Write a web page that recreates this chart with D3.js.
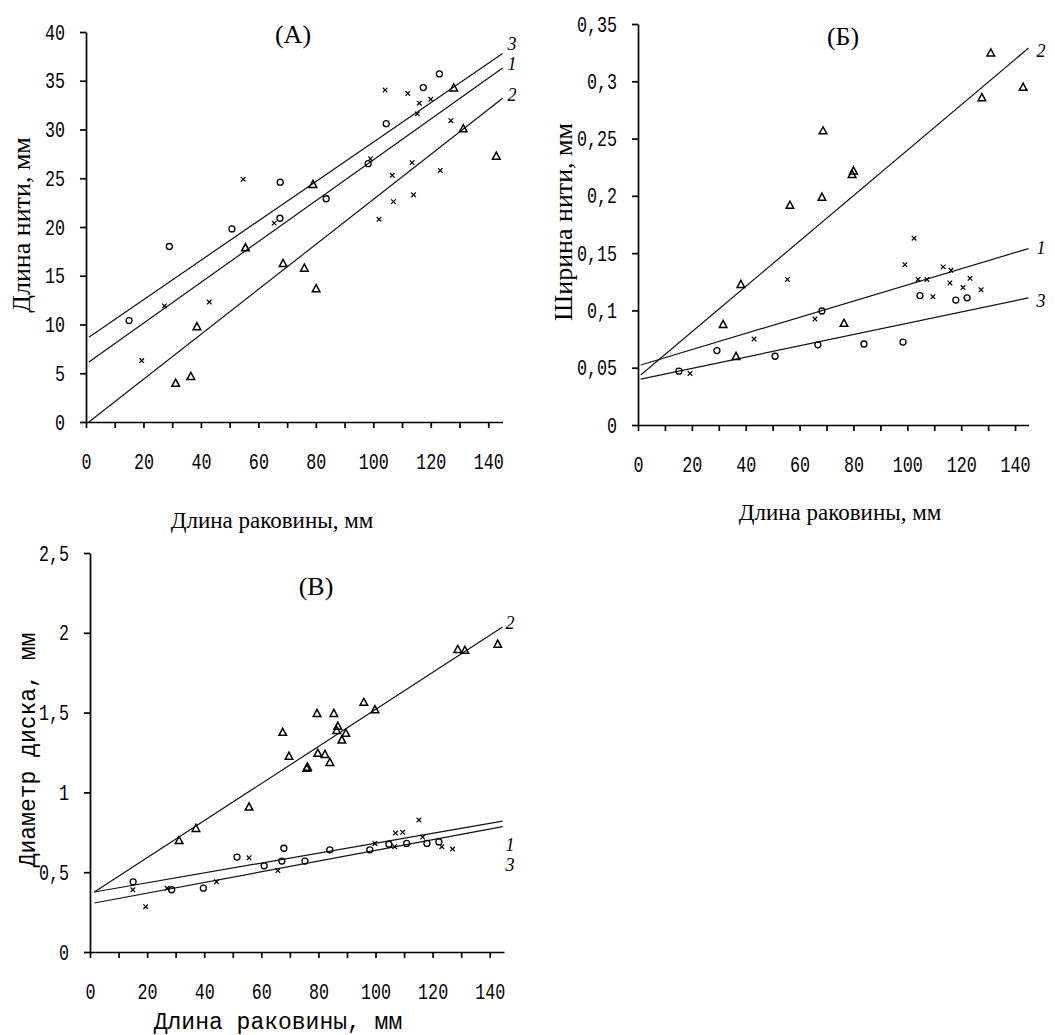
<!DOCTYPE html>
<html>
<head>
<meta charset="utf-8">
<script src="https://cdn.jsdelivr.net/npm/d3@7"></script>
<style>
  body { margin: 0; background: #fff; }
  text { fill: #000; }
</style>
</head>
<body>
<svg width="1055" height="1035"></svg>
<script>
// ---------- data ----------
var xTicks = [0, 10, 20, 30, 40, 50, 60, 70, 80, 90, 100, 110, 120, 130, 140];

// (А) thread length vs shell length
var aYTicks = [0, 5, 10, 15, 20, 25, 30, 35, 40];
var aYLabels = ["0", "5", "10", "15", "20", "25", "30", "35", "40"];
var aCircles = [[15, 10.4], [29, 18], [50.8, 19.8], [67.5, 20.9], [67.6, 24.6], [83.6, 22.9],
  [98.2, 26.5], [104.5, 30.6], [117.4, 34.3], [123, 35.7]];
var aCrosses = [[19.4, 6.3], [27.3, 11.9], [42.9, 12.3], [54.7, 24.9], [65.5, 20.4], [99, 27],
  [102, 20.8], [104.1, 34.05], [106.6, 25.3], [107, 22.6], [112, 33.7], [113.5, 26.6],
  [114, 23.3], [115.3, 31.6], [116, 32.7], [120, 33.1], [123.3, 25.8], [127, 30.9]];
var aTriangles = [[31.2, 4.0], [36.5, 4.7], [38.6, 9.8], [55.5, 17.9], [68.6, 16.3], [76, 15.8],
  [79, 24.4], [80.1, 13.7], [128, 34.3], [131.3, 30.1], [142.8, 27.3]];
var aLines = [
  {name: "3", x0: 1, y0: 8.7, x1: 145, y1: 37.8},
  {name: "1", x0: 1, y0: 6.15, x1: 145, y1: 36.3},
  {name: "2", x0: 1, y0: 0, x1: 145, y1: 33.2}
];

// (Б) thread width vs shell length
var bYTicks = [0, 0.05, 0.1, 0.15, 0.2, 0.25, 0.3, 0.35];
var bYLabels = ["0", "0,05", "0,1", "0,15", "0,2", "0,25", "0,3", "0,35"];
var bCircles = [[15.2, 0.047], [29.3, 0.065], [50.9, 0.060], [66.8, 0.070], [68.3, 0.0995],
  [83.9, 0.0707], [98.4, 0.0724], [104.7, 0.113], [118, 0.109], [122.2, 0.111]];
var bCrosses = [[19.3, 0.045], [43.1, 0.075], [55.5, 0.127], [65.7, 0.0925], [99.1, 0.140],
  [102.5, 0.163], [104, 0.127], [107.3, 0.127], [109.5, 0.112], [113.3, 0.138], [115.8, 0.124],
  [116.2, 0.135], [120.7, 0.120], [123.3, 0.128], [127.4, 0.118]];
var bTriangles = [[31.6, 0.088], [36.4, 0.060], [38.2, 0.123], [56.4, 0.192], [68.3, 0.199],
  [68.7, 0.257], [76.5, 0.089], [79.5, 0.219], [80, 0.222], [127.7, 0.286], [131, 0.325],
  [143, 0.295]];
var bLines = [
  {name: "2", x0: 1, y0: 0.0436, x1: 145, y1: 0.329},
  {name: "1", x0: 1, y0: 0.0524, x1: 145, y1: 0.154},
  {name: "3", x0: 1, y0: 0.040, x1: 145, y1: 0.111}
];

// (В) disc diameter vs shell length
var cYTicks = [0, 0.5, 1, 1.5, 2, 2.5];
var cYLabels = ["0", "0,5", "1", "1,5", "2", "2,5"];
var cCircles = [[15.1, 0.44], [28.6, 0.39], [39.7, 0.40], [51.5, 0.595], [61, 0.54], [67.2, 0.57],
  [67.9, 0.65], [75.3, 0.57], [84, 0.64], [98, 0.64], [104.7, 0.675], [110.9, 0.68],
  [118, 0.68], [122.2, 0.69]];
var cCrosses = [[15, 0.39], [19.5, 0.284], [27, 0.40], [44.3, 0.44], [55.7, 0.59], [65.8, 0.51],
  [99.8, 0.68], [106.7, 0.66], [107, 0.745], [109.5, 0.75], [115.2, 0.827], [116.5, 0.72],
  [123.2, 0.66], [127, 0.645]];
var cTriangles = [[31.2, 0.70], [37.1, 0.776], [55.7, 0.91], [67.5, 1.378], [69.7, 1.228],
  [75.9, 1.153], [76.2, 1.16], [79.5, 1.497], [79.8, 1.247], [82.3, 1.24], [84, 1.19],
  [85.4, 1.497], [86.4, 1.39], [86.8, 1.416], [88.2, 1.33], [89.6, 1.372], [95.9, 1.566],
  [99.8, 1.52], [128.8, 1.898], [131.3, 1.892], [142.8, 1.93]];
var cLines = [
  {name: "2", x0: 1.5, y0: 0.376, x1: 144.5, y1: 2.036},
  {name: "1", x0: 1.5, y0: 0.376, x1: 144.5, y1: 0.82},
  {name: "3", x0: 1.5, y0: 0.307, x1: 144.5, y1: 0.785}
];

// ---------- drawing ----------
var svg = d3.select("svg");
var tickFont = "'Liberation Mono', monospace";
var serif = "'Liberation Serif', 'Times New Roman', serif";

function drawPanel(p) {
  var g = svg.append("g");
  var x = d3.scaleLinear().domain([0, 145]).range([p.left, p.right]);
  var y = d3.scaleLinear().domain([0, p.yMax]).range([p.bottom, p.top]);

  var xAxis = d3.axisBottom(x)
    .tickValues(xTicks)
    .tickSize(6).tickSizeOuter(0).tickPadding(25)
    .tickFormat(d => d % 20 === 0 ? d : "");
  var yAxis = d3.axisLeft(y)
    .tickValues(p.yTicks)
    .tickSize(6).tickSizeOuter(0).tickPadding(15)
    .tickFormat((d, i) => p.yLabels[i]);

  var gx = g.append("g").attr("transform", "translate(0," + p.bottom + ")").call(xAxis);
  var gy = g.append("g").attr("transform", "translate(" + p.left + ",0)").call(yAxis);
  [gx, gy].forEach(function(a) {
    a.selectAll("path, line").attr("stroke", "#000").attr("stroke-width", 1.7);
    a.selectAll("text").style("font-family", tickFont).style("font-size", "22px")
      .attr("fill", "#000");
  });
  gx.selectAll("text").attr("transform", "scale(0.76,1)");
  gy.selectAll("text").attr("x", -21 / 0.76).attr("transform", "scale(0.76,1)");

  // fitted lines
  g.selectAll(".fit").data(p.lines).enter().append("line")
    .attr("x1", d => x(d.x0)).attr("y1", d => y(d.y0))
    .attr("x2", d => x(d.x1)).attr("y2", d => y(d.y1))
    .attr("stroke", "#111").attr("stroke-width", 1.2);

  g.selectAll(".lab").data(p.lines).enter().append("text")
    .attr("x", d => x(d.x1) + p.labDx)
    .attr("y", (d, i) => y(d.y1) + p.labDy[i])
    .style("font-family", serif).style("font-style", "italic").style("font-size", "18px")
    .text(d => d.name);

  // markers
  g.selectAll(".circ").data(p.circles).enter().append("circle")
    .attr("cx", d => x(d[0])).attr("cy", d => y(d[1])).attr("r", 3)
    .attr("fill", "none").attr("stroke", "#000").attr("stroke-width", 1.3);
  g.selectAll(".cross").data(p.crosses).enter().append("path")
    .attr("transform", d => "translate(" + x(d[0]) + "," + y(d[1]) + ")")
    .attr("d", "M-2.3,-2.3L2.3,2.3M-2.3,2.3L2.3,-2.3")
    .attr("stroke", "#000").attr("stroke-width", 1.2);
  g.selectAll(".tri").data(p.triangles).enter().append("path")
    .attr("transform", d => "translate(" + x(d[0]) + "," + y(d[1]) + ")")
    .attr("d", "M0,-3.8L3.8,3.3L-3.8,3.3Z")
    .attr("fill", "none").attr("stroke", "#000").attr("stroke-width", 1.5);

  // titles
  g.append("text").attr("x", p.titleX).attr("y", p.titleY)
    .attr("text-anchor", "middle")
    .style("font-family", serif).style("font-size", "26px")
    .text(p.title);

  g.append("text").attr("x", p.xTitleX).attr("y", p.xTitleY)
    .attr("text-anchor", "middle")
    .style("font-family", p.axisFont).style("font-size", p.axisFontSize)
    .text("Длина раковины, мм");

  g.append("text")
    .attr("transform", "translate(" + p.yTitleX + "," + p.yTitleY + ") rotate(-90)")
    .attr("text-anchor", "middle")
    .style("font-family", p.axisFont).style("font-size", p.yFontSize)
    .text(p.yTitle);
}

drawPanel({
  left: 86, right: 502.6, top: 32, bottom: 422, yMax: 40,
  yTicks: aYTicks, yLabels: aYLabels,
  circles: aCircles, crosses: aCrosses, triangles: aTriangles, lines: aLines,
  labDx: 5, labDy: [-3.5, 2, 3],
  title: "(А)", titleX: 293, titleY: 43,
  xTitleX: 272, xTitleY: 528, axisFont: serif, axisFontSize: "23px",
  yTitle: "Длина нити, мм", yTitleX: 30, yTitleY: 225, yFontSize: "26px"
});

drawPanel({
  left: 638, right: 1028.5, top: 24, bottom: 425, yMax: 0.35,
  yTicks: bYTicks, yLabels: bYLabels,
  circles: bCircles, crosses: bCrosses, triangles: bTriangles, lines: bLines,
  labDx: 8, labDy: [9, 5, 9],
  title: "(Б)", titleX: 843, titleY: 45,
  xTitleX: 840, xTitleY: 520, axisFont: serif, axisFontSize: "23px",
  yTitle: "Ширина нити, мм", yTitleX: 572, yTitleY: 222, yFontSize: "26px"
});

drawPanel({
  left: 90, right: 504, top: 553, bottom: 952, yMax: 2.5,
  yTicks: cYTicks, yLabels: cYLabels,
  circles: cCircles, crosses: cCrosses, triangles: cTriangles, lines: cLines,
  labDx: 3, labDy: [2, 30, 44],
  title: "(В)", titleX: 316, titleY: 595,
  xTitleX: 278, xTitleY: 1029, axisFont: tickFont, axisFontSize: "23px",
  yTitle: "Диаметр диска, мм", yTitleX: 35, yTitleY: 750, yFontSize: "23px"
});
</script>
</body>
</html>
